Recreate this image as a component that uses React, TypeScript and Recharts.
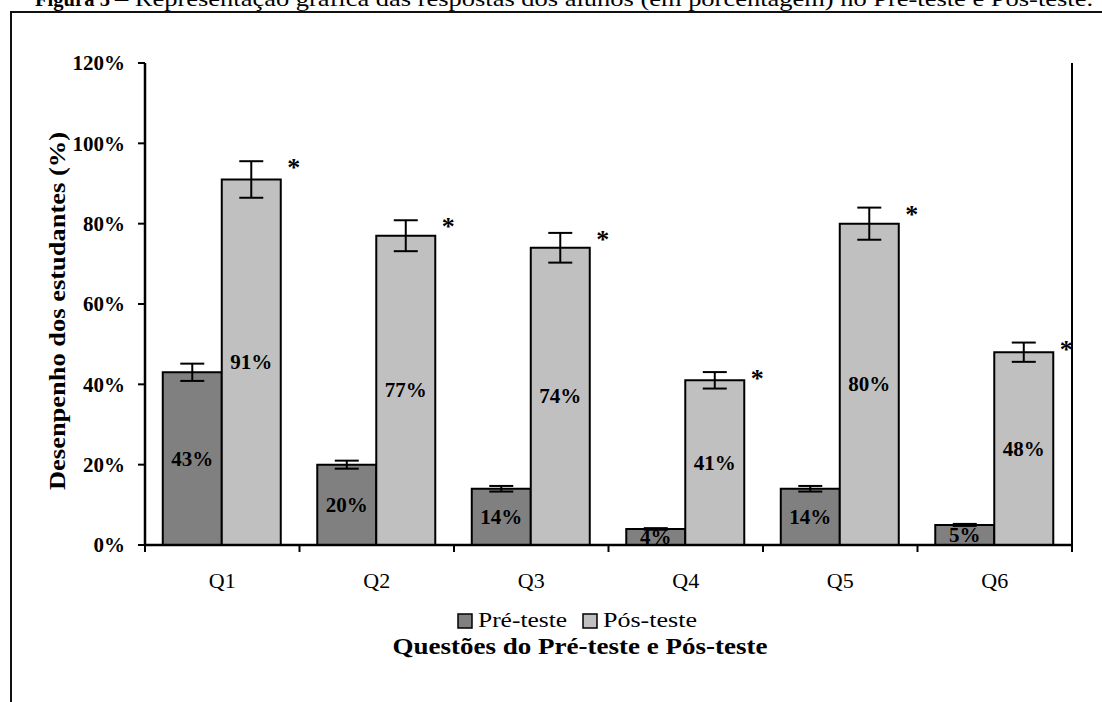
import React from 'react';
import { BarChart, Bar, XAxis, YAxis, ErrorBar, LabelList, Legend, Label } from 'recharts';

// ---------- data ----------
const categories = ['Q1', 'Q2', 'Q3', 'Q4', 'Q5', 'Q6'];
const preTest = [43, 20, 14, 4, 14, 5];
const postTest = [91, 77, 74, 41, 80, 48];
const preError = [2.15, 1.0, 0.7, 0.2, 0.7, 0.25];
const postError = [4.55, 3.85, 3.7, 2.05, 4.0, 2.4];
const significance = ['*', '*', '*', '*', '*', '*'];
const yTicks = [0, 20, 40, 60, 80, 100, 120];
const seriesNames = ['Pré-teste', 'Pós-teste'];
const xTitle = 'Questões do Pré-teste e Pós-teste';
const yTitle = 'Desenpenho dos estudantes (%)';
const figLabel = 'Figura 5';
const figCaption = '– Representação gráfica das respostas dos alunos (em porcentagem) no Pré-teste e Pós-teste.';

const data = categories.map((q, i) => ({
  q,
  pre: preTest[i],
  post: postTest[i],
  preErr: preError[i],
  postErr: postError[i],
}));

// ---------- style ----------
const W = 1102;
const H = 702;
const SERIF = '"Liberation Serif", "Times New Roman", serif';
const PRE_COLOR = '#808080';
const POST_COLOR = '#C0C0C0';
const PLOT_LEFT = 145;
const PLOT_RIGHT = 1072;

const XTick = (props: any) => {
  const { x, y, payload } = props;
  const index = props.index ?? payload.index ?? 0;
  const band = (PLOT_RIGHT - PLOT_LEFT) / categories.length;
  const left = x - band / 2;
  const right = x + band / 2;
  return (
    <g>
      <line x1={left} y1={y} x2={left} y2={y + 7} stroke="#000" strokeWidth={2} />
      {index === categories.length - 1 && (
        <line x1={right} y1={y} x2={right} y2={y + 7} stroke="#000" strokeWidth={2} />
      )}
      <text x={x} y={y + 43} textAnchor="middle" fontSize={22} fontFamily={SERIF} fill="#000">
        {payload.value}
      </text>
    </g>
  );
};

const CenterLabel = (props: any) => {
  const { x, y, width, height, value } = props;
  return (
    <text
      x={Number(x) + Number(width) / 2}
      y={Number(y) + Number(height) / 2 + 7}
      textAnchor="middle"
      fontSize={21}
      fontWeight="bold"
      fontFamily={SERIF}
      fill="#000"
    >
      {`${value}%`}
    </text>
  );
};

const StarLabel = (props: any) => {
  const { x, y, width, height, index } = props;
  const v = postTest[index];
  const errTop = Number(y) - (Number(height) * postError[index]) / v;
  return (
    <text
      x={Number(x) + Number(width) + 13}
      y={errTop + 15}
      textAnchor="middle"
      fontSize={26}
      fontWeight="bold"
      fontFamily={SERIF}
      fill="#000"
    >
      {significance[index]}
    </text>
  );
};

const YTitle = (props: any) => {
  const vb = props.viewBox || { x: 0, y: 63, width: 145, height: 482 };
  const cx = vb.x + 65;
  const cy = vb.y + vb.height / 2 + 7;
  return (
    <text
      x={cx}
      y={cy}
      transform={`rotate(-90 ${cx} ${cy})`}
      textAnchor="middle"
      fontSize={23}
      fontWeight="bold"
      fontFamily={SERIF}
      fill="#000"
      textLength={358}
      lengthAdjust="spacingAndGlyphs"
    >
      {yTitle}
    </text>
  );
};

const XTitle = (props: any) => {
  const vb = props.viewBox || { x: 145, y: 545, width: 927, height: 157 };
  const cx = vb.x + vb.width / 2 - 28.5;
  const by = vb.y + 109;
  return (
    <text
      x={cx}
      y={by}
      textAnchor="middle"
      fontSize={23}
      fontWeight="bold"
      fontFamily={SERIF}
      fill="#000"
      textLength={375}
      lengthAdjust="spacingAndGlyphs"
    >
      {xTitle}
    </text>
  );
};

const legendTextLen = [89, 94];

const LegendContent = (props: any) => {
  const payload = props.payload || [];
  let cur = 458;
  const items = payload.map((p: any, i: number) => {
    const sx = cur;
    const tx = sx + 20;
    cur = tx + legendTextLen[i % legendTextLen.length] + 16;
    return (
      <g key={i}>
        <rect x={sx} y={10} width={14} height={14} fill={p.color} stroke="#000" strokeWidth={1.5} />
        <text
          x={tx}
          y={23}
          fontSize={22}
          fontFamily={SERIF}
          fill="#000"
          textLength={legendTextLen[i % legendTextLen.length]}
          lengthAdjust="spacingAndGlyphs"
        >
          {p.value}
        </text>
      </g>
    );
  });
  return (
    <svg width={W} height={30} style={{ display: 'block' }}>
      {items}
    </svg>
  );
};

export default function App() {
  return (
    <div
      style={{
        position: 'absolute',
        left: 0,
        top: 0,
        width: W,
        height: H,
        overflow: 'hidden',
        background: '#fff',
      }}
    >
      <svg width={W} height={20} style={{ position: 'absolute', left: 0, top: 0 }}>
        <text x={35} y={6} fontSize={22} fontWeight="bold" fontFamily={SERIF} fill="#000" textLength={75} lengthAdjust="spacingAndGlyphs">
          {figLabel}
        </text>
        <text x={115} y={6} fontSize={22} fontFamily={SERIF} fill="#000" textLength={978} lengthAdjust="spacingAndGlyphs">
          {figCaption}
        </text>
      </svg>
      <div
        style={{
          position: 'absolute',
          left: 10,
          top: 11,
          width: 3000,
          height: 3000,
          borderLeft: '2px solid #111',
          borderTop: '2px solid #111',
        }}
      />
      <div style={{ position: 'absolute', left: 0, top: 0 }}>
        <BarChart
          width={W}
          height={H}
          data={data}
          margin={{ top: 63, right: 0, bottom: 0, left: 0 }}
          barGap={0}
          barCategoryGap="11.5%"
        >
          <XAxis
            dataKey="q"
            height={157}
            tick={<XTick />}
            tickLine={false}
            tickSize={0}
            tickMargin={0}
            interval={0}
            axisLine={{ stroke: '#000', strokeWidth: 2.5 }}
          >
            <Label content={<XTitle />} />
          </XAxis>
          <XAxis
            xAxisId="top"
            orientation="top"
            dataKey="q"
            height={0}
            tick={false}
            tickLine={false}
            axisLine={{ stroke: '#000', strokeWidth: 2 }}
          />
          <YAxis
            yAxisId="left"
            domain={[0, 120]}
            ticks={yTicks}
            interval={0}
            width={145}
            tickFormatter={(v: number) => `${v}%`}
            tick={{ fontSize: 21, fontWeight: 'bold', fill: '#000', fontFamily: SERIF }}
            tickSize={7}
            tickMargin={13}
            axisLine={{ stroke: '#000', strokeWidth: 2.5 }}
            tickLine={{ stroke: '#000', strokeWidth: 2 }}
          >
            <Label content={<YTitle />} />
          </YAxis>
          <YAxis
            yAxisId="right"
            orientation="right"
            domain={[0, 120]}
            width={30}
            tick={false}
            tickLine={false}
            axisLine={{ stroke: '#000', strokeWidth: 2 }}
          />
          <Legend
            layout="horizontal"
            verticalAlign="middle"
            align="center"
            wrapperStyle={{ top: 604, left: 0, width: W, height: 30 }}
            content={<LegendContent />}
          />
          <Bar
            yAxisId="left"
            dataKey="pre"
            name={seriesNames[0]}
            fill={PRE_COLOR}
            stroke="#000"
            strokeWidth={2}
            isAnimationActive={false}
          >
            <ErrorBar dataKey="preErr" width={12} stroke="#000" strokeWidth={2} direction="y" />
            <LabelList dataKey="pre" content={CenterLabel} />
          </Bar>
          <Bar
            yAxisId="left"
            dataKey="post"
            name={seriesNames[1]}
            fill={POST_COLOR}
            stroke="#000"
            strokeWidth={2}
            isAnimationActive={false}
          >
            <ErrorBar dataKey="postErr" width={12} stroke="#000" strokeWidth={2} direction="y" />
            <LabelList dataKey="post" content={CenterLabel} />
            <LabelList dataKey="post" content={StarLabel} />
          </Bar>
        </BarChart>
      </div>
    </div>
  );
}
